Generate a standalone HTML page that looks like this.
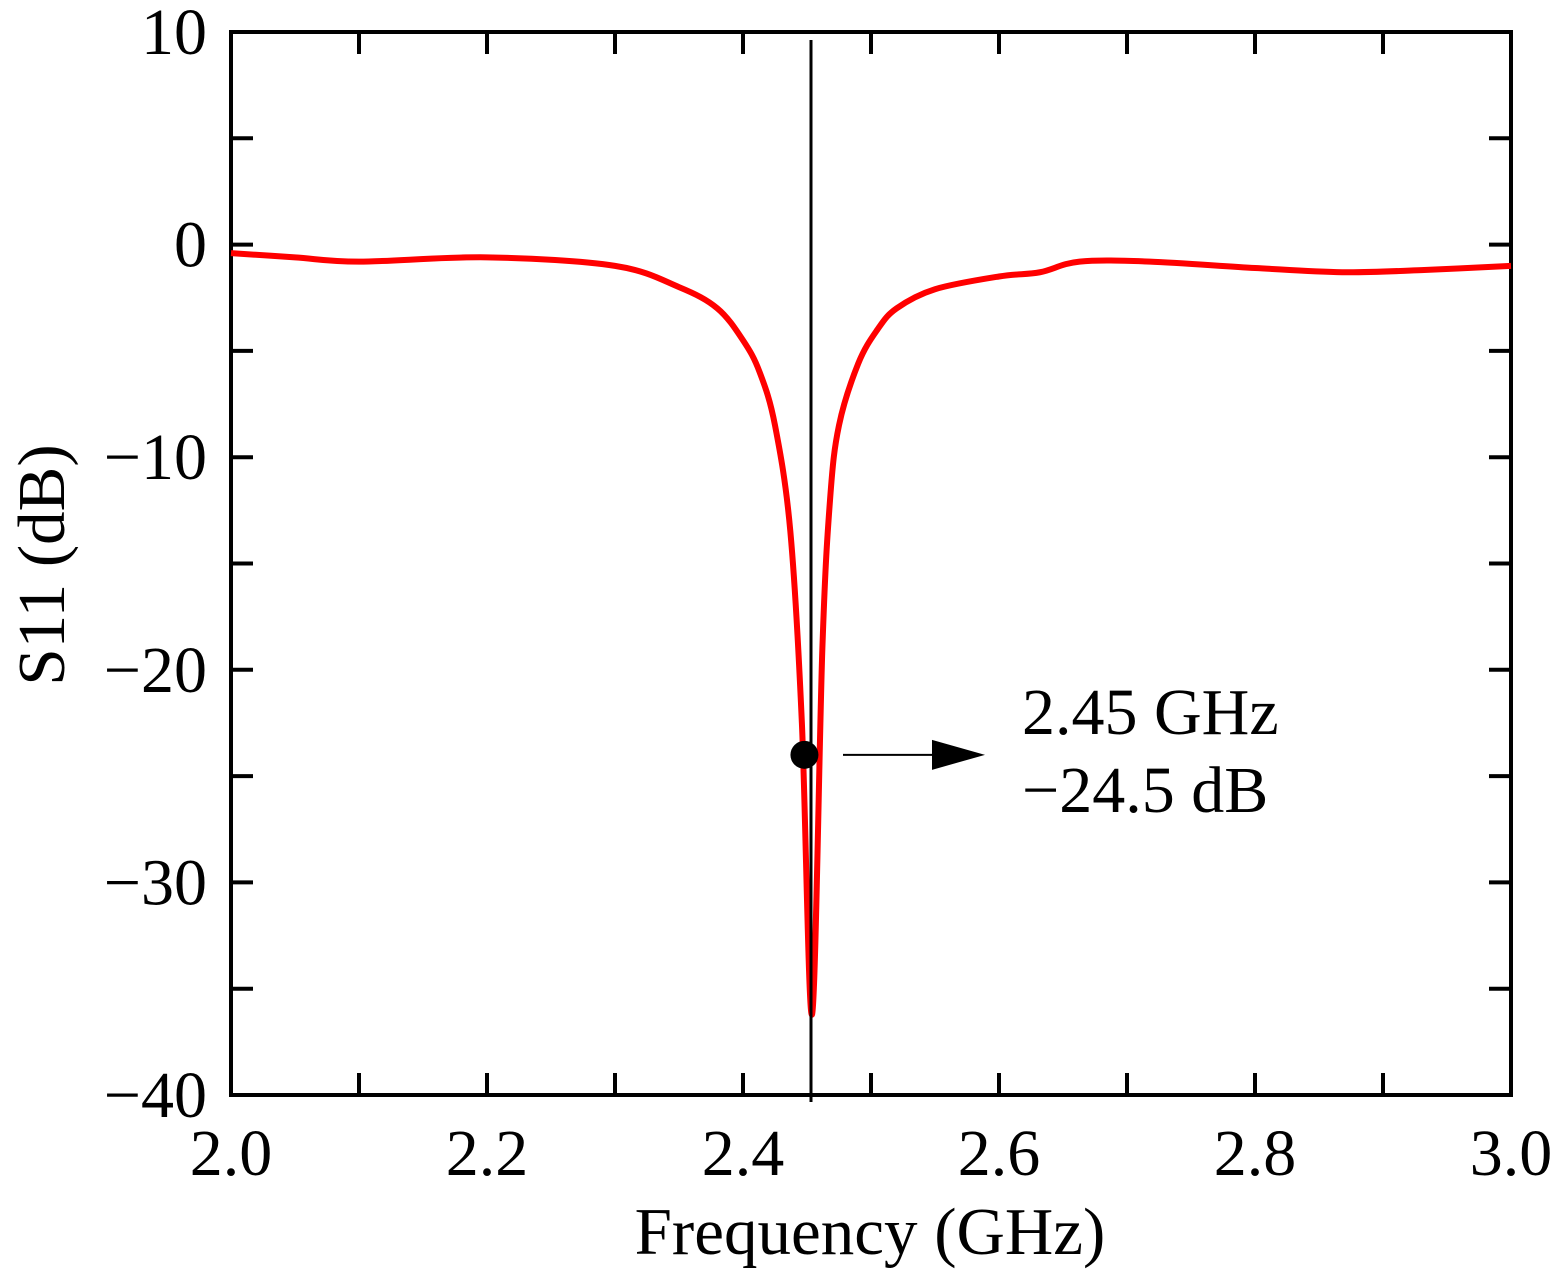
<!DOCTYPE html>
<html><head><meta charset="utf-8"><style>
html,body{margin:0;padding:0;background:#fff;}
svg text{font-family:"Liberation Serif",serif;fill:#000;}
</style></head><body>
<svg id="chart" width="1559" height="1271" xmlns="http://www.w3.org/2000/svg">
<g id="grid"></g>
<g id="curve"></g>
<g id="annot"></g>
</svg>
<script>
const freqs=[2.0,2.05,2.1,2.2,2.3,2.35,2.38,2.4,2.413,2.425,2.437,2.446,2.454,2.462,2.468,2.475,2.49,2.505,2.52,2.55,2.6,2.632,2.663,2.718,2.8,2.868,2.93,3.0];
const s11=[-0.4,-0.6,-0.8,-0.6,-1.0,-2.0,-3.0,-4.5,-6.0,-8.5,-13.5,-22.5,-36.2,-19.0,-12.0,-8.5,-5.6,-4.0,-3.0,-2.1,-1.5,-1.3,-0.8,-0.8,-1.1,-1.3,-1.2,-1.0];
const xTicks=[2.0,2.2,2.4,2.6,2.8,3.0];
const xTickLabels=["2.0","2.2","2.4","2.6","2.8","3.0"];
const yTicks=[10,0,-10,-20,-30,-40];
const yTickLabels=["10","0","\u221210","\u221220","\u221230","\u221240"];
const markerF=[2.448], markerV=[-24.0];
const L=231,R=1511,T=32,B=1095;
const xs=f=>L+(f-2)*(R-L);
const ys=v=>T+(10-v)*(B-T)/50;
const NS="http://www.w3.org/2000/svg";
function mk(tag,attrs,parent){const e=document.createElementNS(NS,tag);for(const k in attrs)e.setAttribute(k,attrs[k]);parent.appendChild(e);return e;}
const g=document.getElementById('grid');
for(let f=2.0;f<=3.0001;f+=0.1){const x=xs(f);
 let t=mk('line',{x1:x,x2:x,y1:B,y2:B-22,stroke:'#000','stroke-width':4},g);
 
 
 t=mk('line',{x1:x,x2:x,y1:T,y2:T+22,stroke:'#000','stroke-width':4},g);
 
 }
for(let v=-40;v<=10;v+=5){const y=ys(v);
 let t=mk('line',{x1:L,x2:L+22,y1:y,y2:y,stroke:'#000','stroke-width':4},g);
 
 
 t=mk('line',{x1:R,x2:R-22,y1:y,y2:y,stroke:'#000','stroke-width':4},g);
 
 }
xTicks.forEach((f,i)=>{const t=mk('text',{x:xs(f),y:1175,'font-size':66,'text-anchor':'middle'},g);t.textContent=xTickLabels[i];
 
 });
yTicks.forEach((v,i)=>{const t=mk('text',{x:207,y:ys(v)+22,'font-size':66,'text-anchor':'end'},g);t.textContent=yTickLabels[i];
 
 });
let fr=mk('rect',{x:L,y:T,width:R-L,height:B-T,fill:'none',stroke:'#000','stroke-width':4},g);


let xl=mk('text',{x:870,y:1254,'font-size':67,'text-anchor':'middle'},g);xl.textContent='Frequency (GHz)';


let yl=mk('text',{x:0,y:0,'font-size':67,'text-anchor':'middle',transform:'translate(64,565) rotate(-90)'},g);yl.textContent='S11 (dB)';


const c=document.getElementById('curve');
const pts=freqs.map((f,i)=>[xs(f),ys(s11[i])]);
let d='M'+pts[0][0]+','+pts[0][1];
for(let i=0;i<pts.length-1;i++){const p0=pts[Math.max(0,i-1)],p1=pts[i],p2=pts[i+1],p3=pts[Math.min(pts.length-1,i+2)];
 const k=6;d+=` C${p1[0]+(p2[0]-p0[0])/k},${p1[1]+(p2[1]-p0[1])/k} ${p2[0]-(p3[0]-p1[0])/k},${p2[1]-(p3[1]-p1[1])/k} ${p2[0]},${p2[1]}`;}
let cp=mk('path',{d:d,fill:'none',stroke:'#ff0000','stroke-width':6,'stroke-linejoin':'round'},c);


const a=document.getElementById('annot');
let vl=mk('line',{x1:811,x2:811,y1:40,y2:1102,stroke:'#000','stroke-width':3},a);


const mx=xs(markerF[0]),my=ys(markerV[0]);
let dot=mk('circle',{cx:mx,cy:my,r:14,fill:'#000'},a);


let ar=mk('line',{x1:843,x2:935,y1:my,y2:my,stroke:'#000','stroke-width':2},a);


let ah=mk('polygon',{points:`932,${my-15} 985,${my} 932,${my+15}`,fill:'#000'},a);


let t1=mk('text',{x:1022,y:734,'font-size':66},a);t1.textContent='2.45 GHz';


let t2=mk('text',{x:1022,y:812,'font-size':66},a);t2.textContent='\u221224.5 dB';


</script>
</body></html>
